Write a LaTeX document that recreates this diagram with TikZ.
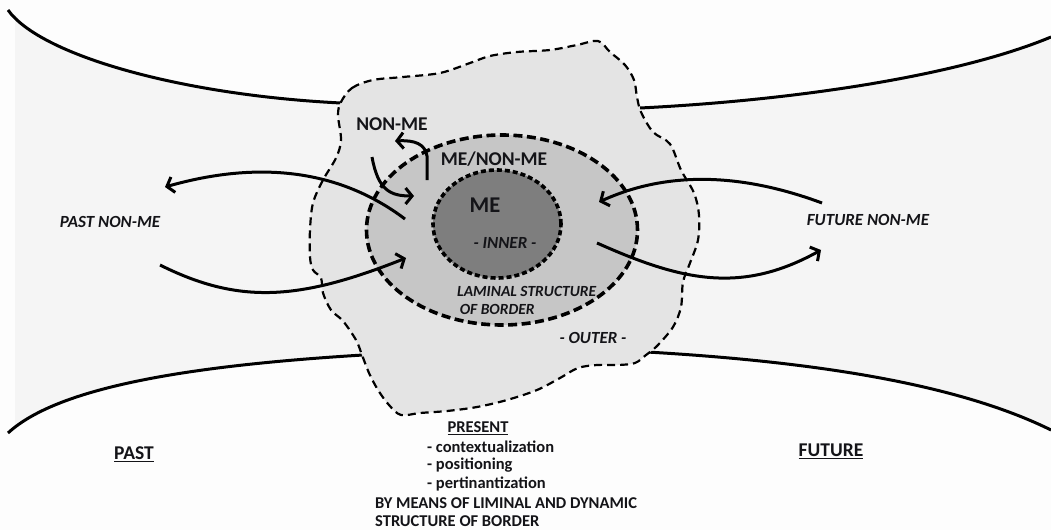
\documentclass[tikz,border=0pt]{standalone}
\usepackage{fontspec}
\setmainfont{Carlito}
\usetikzlibrary{arrows.meta,shapes.geometric}
\definecolor{bgwhite}{HTML}{FDFDFD}
\definecolor{tubegray}{HTML}{F5F5F5}
\definecolor{blobgray}{HTML}{E4E4E4}
\definecolor{midgray}{HTML}{C6C6C6}
\definecolor{innergray}{HTML}{7E7E7E}
\definecolor{ink}{HTML}{141418}
\tikzset{
  bigcurve/.style={line width=3pt, black},
  arr/.style={line width=3pt, black, -{Straight Barb[length=6.5pt,width=16pt]}},
  blobline/.style={line width=2.2pt, dash pattern=on 8pt off 5pt, fill=blobgray},
  midline/.style={line width=3.6pt, dash pattern=on 9pt off 4.5pt, fill=midgray},
  innerline/.style={line width=3.6pt, dash pattern=on 5pt off 3pt, fill=innergray},
  itlab/.style={font=\bfseries\itshape\fontsize{17}{19}\selectfont, text=ink, inner sep=0pt},
  uplab/.style={font=\bfseries\fontsize{19.5}{22}\selectfont, text=ink, inner sep=0pt},
  botlab/.style={font=\bfseries\fontsize{16.5}{19}\selectfont, text=ink, inner sep=0pt, anchor=west},
  ullab/.style={font=\bfseries\fontsize{19.5}{22}\selectfont, text=ink, inner sep=0pt},
}
\begin{document}
\begin{tikzpicture}[x=1pt,y=-1pt]
\useasboundingbox (0,0) rectangle (1051,530);
\fill[bgwhite] (0,0) rectangle (1051,530);
% tube
\fill[tubegray] (15,14) .. controls (42,55) and (180,95) .. (340,103) -- (640,108)
  .. controls (800,100) and (960,75) .. (1051,37) -- (1051,430)
  .. controls (960,385) and (820,362) .. (647,352) -- (363,355)
  .. controls (200,365) and (60,385) .. (15,428) -- cycle;
% boundary curves
\coordinate (tlA) at (8,10);   \coordinate (tlB) at (341,103);
\coordinate (trA) at (640,108); \coordinate (trB) at (1051,37);
\coordinate (blA) at (8,433);  \coordinate (blB) at (363,355);
\coordinate (brA) at (647,352); \coordinate (brB) at (1051,430);
\draw[bigcurve] (tlA) .. controls (40,55) and (180,95) .. (tlB);
\draw[bigcurve] (trA) .. controls (800,100) and (960,75) .. (trB);
\draw[bigcurve] (blA) .. controls (60,385) and (200,365) .. (blB);
\draw[bigcurve] (brA) .. controls (820,362) and (960,385) .. (brB);
% outer blob
\draw[blobline] plot[smooth cycle, tension=0.55] coordinates {
 (341,102) (352,88) (373,80) (403,77) (440,73) (470,63) (490,56) (517,52) (550,50)
 (577,45) (598,41) (610,52) (625,65) (634,80) (637,97) (641,112) (653,132) (670,144)
 (681,170) (694,193) (699,215) (698,240) (690,263) (683,282) (681,307) (673,327)
 (657,346) (646,355) (635,363) (618,365) (597,365) (578,368) (560,378) (537,390)
 (507,400) (477,407) (447,411) (420,413) (401,415) (389,405) (378,390) (369,373)
 (362,355) (356,340) (343,321) (331,310) (323,293) (321,278) (313,270) (310,257)
 (310,230) (313,203) (323,180) (336,158) (341,140) (338,115)};
% middle and inner
\node[ellipse, midline, draw, minimum width=271pt, minimum height=190pt, inner sep=0pt] (mid) at (502,230) {};
\node[ellipse, innerline, draw, minimum width=128pt, minimum height=108pt, inner sep=0pt] (inner) at (497,224) {};
% arrows
\coordinate (a1s) at (405,219); \coordinate (a1e) at (165,187);
\coordinate (a2s) at (160,265); \coordinate (a2e) at (406,258);
\coordinate (a3s) at (822,203); \coordinate (a3e) at (599,202);
\coordinate (a4s) at (597,243); \coordinate (a4e) at (821,250);
\coordinate (a5s) at (372,157); \coordinate (a5e) at (414,196);
\coordinate (a6s) at (427,180); \coordinate (a6e) at (395,141);
\draw[arr] (a1s) .. controls (340,170) and (260,160) .. (a1e);
\draw[arr] (a2s) .. controls (240,305) and (300,300) .. (a2e);
\draw[arr] (a3s) .. controls (760,180) and (680,165) .. (a3e);
\draw[arr] (a4s) .. controls (680,280) and (740,295) .. (a4e);
\draw[arr] (a5s) .. controls (378,190) and (390,196) .. (a5e);
\draw[arr] (a6s) -- (427,156) .. controls (425,144) and (415,140) .. (a6e);
% labels
\node[uplab] (nonme) at (392,124) {NON-ME};
\node[uplab] (menonme) at (494,159) {ME/NON-ME};
\node[uplab, font=\bfseries\fontsize{22.5}{24}\selectfont] (me) at (485,205) {ME};
\node[itlab] (inn) at (505,243) {- INNER -};
\node[itlab, anchor=west, align=left, font=\bfseries\itshape\fontsize{15.5}{18}\selectfont] (lam) at (457,300) {LAMINAL STRUCTURE\\\,OF BORDER};
\node[itlab] (outer) at (593,338) {- OUTER -};
\node[itlab] (pastnm) at (110,222) {PAST NON-ME};
\node[itlab] (futnm) at (868,220) {FUTURE NON-ME};
\node[ullab] (past) at (134,454) {\underline{PAST}};
\node[ullab] (future) at (831,451) {\underline{FUTURE}};
\node[botlab, anchor=center] (present) at (478,428) {\underline{PRESENT}};
\node[botlab] (c1) at (427,447) {- contextualization};
\node[botlab] (c2) at (427,465) {- positioning};
\node[botlab] (c3) at (427,484) {- pertinantization};
\node[botlab] (by1) at (375,503) {BY MEANS OF LIMINAL AND DYNAMIC};
\node[botlab] (by2) at (375,521) {STRUCTURE OF BORDER};
\end{tikzpicture}
\end{document}
